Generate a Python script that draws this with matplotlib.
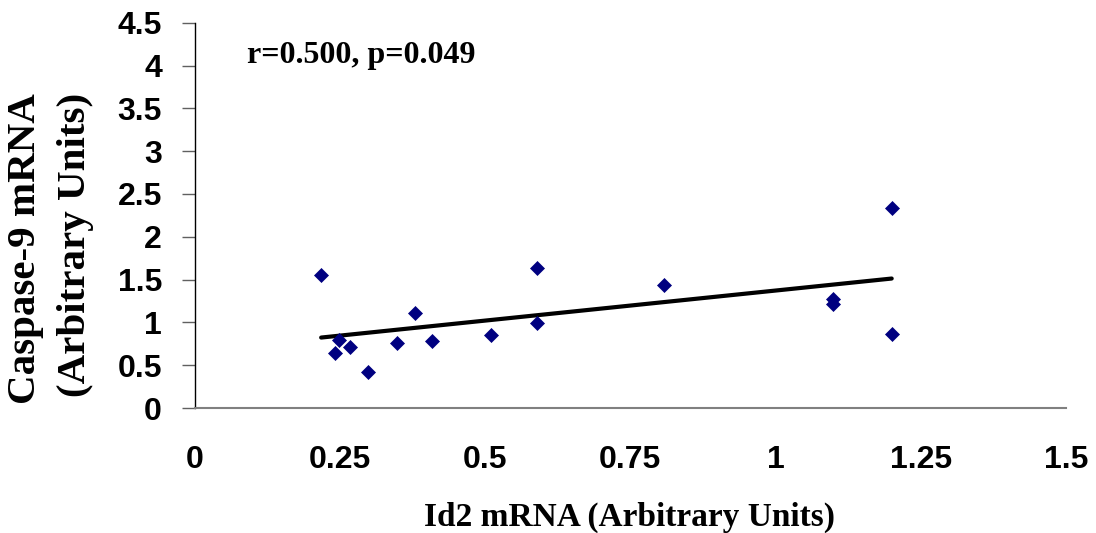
import numpy as np
import matplotlib
matplotlib.use("Agg")
import matplotlib.pyplot as plt

# Data
id2_mrna = [0.218, 0.242, 0.249, 0.268, 0.299, 0.349, 0.379, 0.409,
            0.510, 0.590, 0.590, 0.808, 1.099, 1.099, 1.200, 1.200]
casp9_mrna = [1.55, 0.64, 0.80, 0.71, 0.42, 0.76, 1.11, 0.78,
              0.85, 1.64, 0.99, 1.44, 1.27, 1.22, 2.34, 0.87]
x_ticks = [0, 0.25, 0.5, 0.75, 1, 1.25, 1.5]
x_tick_labels = ["0", "0.25", "0.5", "0.75", "1", "1.25", "1.5"]
y_ticks = [0, 0.5, 1, 1.5, 2, 2.5, 3, 3.5, 4, 4.5]
y_tick_labels = ["0", "0.5", "1", "1.5", "2", "2.5", "3", "3.5", "4", "4.5"]
annotation = "r=0.500, p=0.049"

W, H = 1096, 533
fig = plt.figure(figsize=(W / 100, H / 100), dpi=100)
ax = fig.add_axes([194.5 / W, (H - 408) / H, (1066 - 194.5) / W, (408 - 22.7) / H])

x = np.array(id2_mrna)
y = np.array(casp9_mrna)
ax.plot(x, y, linestyle="none", marker="D", ms=7.4, color="#000080",
        mec="#000080", mew=0.5, zorder=3)

slope, intercept = np.polyfit(x, y, 1)
xx = np.array([x.min(), x.max()])
ax.plot(xx, slope * xx + intercept, color="black", lw=3.0, zorder=2,
        solid_capstyle="round")

ax.set_xlim(0, 1.5)
ax.set_ylim(0, 4.5)
ax.set_xticks(x_ticks)
ax.set_xticklabels(x_tick_labels)
ax.set_yticks(y_ticks)
ax.set_yticklabels(y_tick_labels)

for s in ["top", "right"]:
    ax.spines[s].set_visible(False)
ax.spines["left"].set_color("black")
ax.spines["left"].set_linewidth(1.0)
ax.spines["bottom"].set_color("#808080")
ax.spines["bottom"].set_linewidth(1.5)

ax.tick_params(axis="x", length=0, pad=27)
ax.tick_params(axis="y", length=9.4, width=1.0, color="#606060", pad=14)
for lab in ax.get_xticklabels() + ax.get_yticklabels():
    lab.set_fontfamily("Liberation Sans")
    lab.set_fontweight("bold")
    lab.set_fontsize(23)

serif = dict(family="Liberation Serif", weight="bold")
fig.text(630 / W, 1 - 517 / H, "Id2 mRNA (Arbitrary Units)", ha="center",
         va="center", fontsize=24, **serif)
fig.text(26 / W, 1 - 93 / H, "Caspase-9 mRNA", rotation=90, ha="center",
         va="top", fontsize=29.5, **serif)
fig.text(76 / W, 1 - 93 / H, "(Arbitrary Units)", rotation=90, ha="center",
         va="top", fontsize=29.5, **serif)
fig.text(247 / W, 1 - 63 / H, annotation, ha="left", va="baseline",
         fontsize=23, **serif)

fig.savefig("out.png", dpi=100)
